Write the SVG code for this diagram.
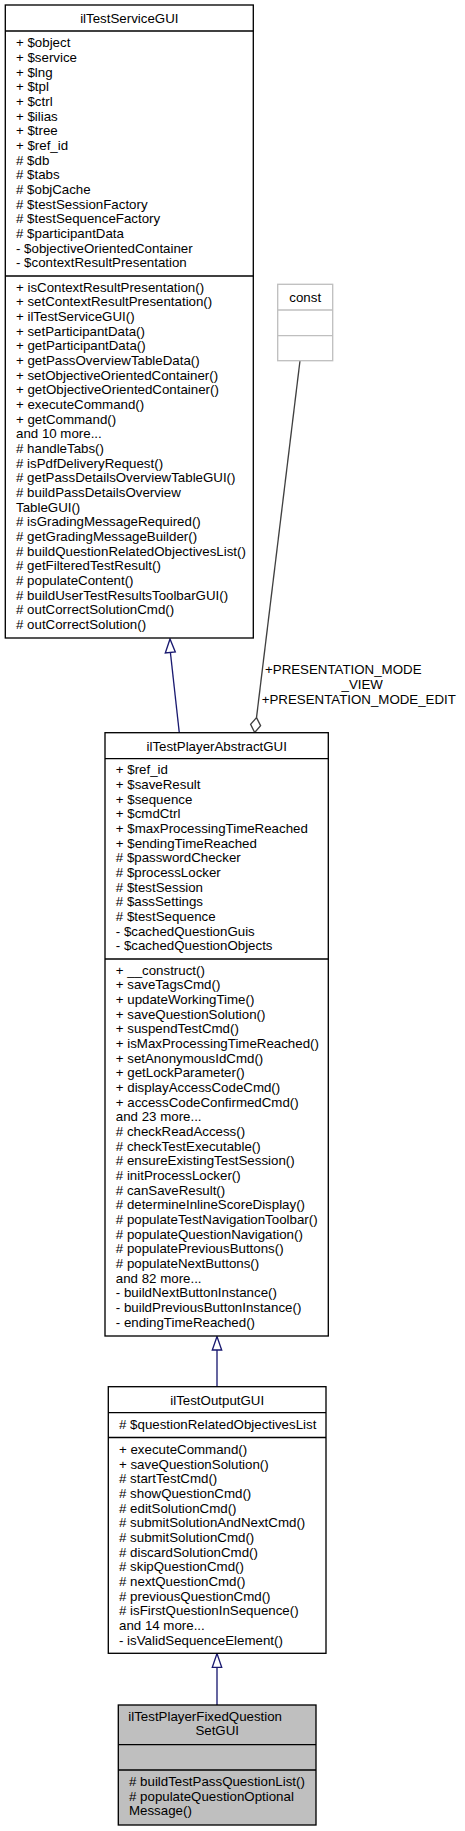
<svg xmlns="http://www.w3.org/2000/svg" width="465" height="1831" viewBox="0 0 465 1831">
<style>
text{font-family:"Liberation Sans",Arial,Helvetica,sans-serif;font-size:13.3px;fill:#000}
.box{fill:#fff;stroke:#000;stroke-width:1.33}
.sel{fill:#bfbfbf;stroke:#000;stroke-width:1.33}
.cst{fill:#fff;stroke:#bfbfbf;stroke-width:1.33}
.ln{stroke:#000;stroke-width:1.33}
.lnc{stroke:#bfbfbf;stroke-width:1.33}
.inh{fill:none;stroke:#191970;stroke-width:1.33}
.tri{fill:#fff;stroke:#191970;stroke-width:1.33}
.agg{fill:none;stroke:#404040;stroke-width:1.33}
.dia{fill:#fff;stroke:#404040;stroke-width:1.33}
.mid{text-anchor:middle}
</style>
<rect width="465" height="1831" fill="#fff"/>
<g id="edges">
<path class="inh" d="M179.3,732.7 L170.4,652.5"/>
<polygon class="tri" points="170,639 165.3,653 175.3,652"/>
<path class="inh" d="M217,1350 L217,1386.7"/>
<polygon class="tri" points="217,1336.5 212.3,1350 221.7,1350"/>
<path class="inh" d="M217,1667.3 L217,1705"/>
<polygon class="tri" points="217,1653.5 212.3,1667.3 221.7,1667.3"/>
<path class="agg" d="M300,360.7 L256.5,717.6"/>
<polygon class="dia" points="256.5,717.6 260.6,725.6 254.7,732.5 250.6,724.4"/>
<text x="265" y="674.4">+PRESENTATION_MODE</text>
<text x="341.5" y="689">_VIEW</text>
<text x="261.7" y="703.6">+PRESENTATION_MODE_EDIT</text>
</g>
<g id="node_ilTestServiceGUI">
<rect class="box" x="5.3" y="5" width="248" height="633"/>
<line class="ln" x1="5.3" y1="31" x2="253.3" y2="31"/>
<line class="ln" x1="5.3" y1="276" x2="253.3" y2="276"/>
<text class="mid" x="129.3" y="23">ilTestServiceGUI</text>
<text x="16"><tspan x="16" y="47.2">+ $object</tspan><tspan x="16" dy="14.667">+ $service</tspan><tspan x="16" dy="14.667">+ $lng</tspan><tspan x="16" dy="14.667">+ $tpl</tspan><tspan x="16" dy="14.667">+ $ctrl</tspan><tspan x="16" dy="14.667">+ $ilias</tspan><tspan x="16" dy="14.667">+ $tree</tspan><tspan x="16" dy="14.667">+ $ref_id</tspan><tspan x="16" dy="14.667"># $db</tspan><tspan x="16" dy="14.667"># $tabs</tspan><tspan x="16" dy="14.667"># $objCache</tspan><tspan x="16" dy="14.667"># $testSessionFactory</tspan><tspan x="16" dy="14.667"># $testSequenceFactory</tspan><tspan x="16" dy="14.667"># $participantData</tspan><tspan x="16" dy="14.667">- $objectiveOrientedContainer</tspan><tspan x="16" dy="14.667">- $contextResultPresentation</tspan></text>
<text x="16"><tspan x="16" y="291.8">+ isContextResultPresentation()</tspan><tspan x="16" dy="14.667">+ setContextResultPresentation()</tspan><tspan x="16" dy="14.667">+ ilTestServiceGUI()</tspan><tspan x="16" dy="14.667">+ setParticipantData()</tspan><tspan x="16" dy="14.667">+ getParticipantData()</tspan><tspan x="16" dy="14.667">+ getPassOverviewTableData()</tspan><tspan x="16" dy="14.667">+ setObjectiveOrientedContainer()</tspan><tspan x="16" dy="14.667">+ getObjectiveOrientedContainer()</tspan><tspan x="16" dy="14.667">+ executeCommand()</tspan><tspan x="16" dy="14.667">+ getCommand()</tspan><tspan x="16" dy="14.667">and 10 more...</tspan><tspan x="16" dy="14.667"># handleTabs()</tspan><tspan x="16" dy="14.667"># isPdfDeliveryRequest()</tspan><tspan x="16" dy="14.667"># getPassDetailsOverviewTableGUI()</tspan><tspan x="16" dy="14.667"># buildPassDetailsOverview</tspan><tspan x="16" dy="14.667">TableGUI()</tspan><tspan x="16" dy="14.667"># isGradingMessageRequired()</tspan><tspan x="16" dy="14.667"># getGradingMessageBuilder()</tspan><tspan x="16" dy="14.667"># buildQuestionRelatedObjectivesList()</tspan><tspan x="16" dy="14.667"># getFilteredTestResult()</tspan><tspan x="16" dy="14.667"># populateContent()</tspan><tspan x="16" dy="14.667"># buildUserTestResultsToolbarGUI()</tspan><tspan x="16" dy="14.667"># outCorrectSolutionCmd()</tspan><tspan x="16" dy="14.667"># outCorrectSolution()</tspan></text>
</g>
<g id="node_const">
<rect class="cst" x="277.7" y="284.3" width="55" height="76.4"/>
<line class="lnc" x1="277.7" y1="310" x2="332.7" y2="310"/>
<line class="lnc" x1="277.7" y1="335.7" x2="332.7" y2="335.7"/>
<text class="mid" x="305.2" y="301.8">const</text>
</g>
<g id="node_ilTestPlayerAbstractGUI">
<rect class="box" x="105" y="732.7" width="223.3" height="603.3"/>
<line class="ln" x1="105" y1="758.7" x2="328.3" y2="758.7"/>
<line class="ln" x1="105" y1="959" x2="328.3" y2="959"/>
<text class="mid" x="216.7" y="750.5">ilTestPlayerAbstractGUI</text>
<text x="115.8"><tspan x="115.8" y="774.3">+ $ref_id</tspan><tspan x="115.8" dy="14.667">+ $saveResult</tspan><tspan x="115.8" dy="14.667">+ $sequence</tspan><tspan x="115.8" dy="14.667">+ $cmdCtrl</tspan><tspan x="115.8" dy="14.667">+ $maxProcessingTimeReached</tspan><tspan x="115.8" dy="14.667">+ $endingTimeReached</tspan><tspan x="115.8" dy="14.667"># $passwordChecker</tspan><tspan x="115.8" dy="14.667"># $processLocker</tspan><tspan x="115.8" dy="14.667"># $testSession</tspan><tspan x="115.8" dy="14.667"># $assSettings</tspan><tspan x="115.8" dy="14.667"># $testSequence</tspan><tspan x="115.8" dy="14.667">- $cachedQuestionGuis</tspan><tspan x="115.8" dy="14.667">- $cachedQuestionObjects</tspan></text>
<text x="115.8"><tspan x="115.8" y="974.7">+ __construct()</tspan><tspan x="115.8" dy="14.667">+ saveTagsCmd()</tspan><tspan x="115.8" dy="14.667">+ updateWorkingTime()</tspan><tspan x="115.8" dy="14.667">+ saveQuestionSolution()</tspan><tspan x="115.8" dy="14.667">+ suspendTestCmd()</tspan><tspan x="115.8" dy="14.667">+ isMaxProcessingTimeReached()</tspan><tspan x="115.8" dy="14.667">+ setAnonymousIdCmd()</tspan><tspan x="115.8" dy="14.667">+ getLockParameter()</tspan><tspan x="115.8" dy="14.667">+ displayAccessCodeCmd()</tspan><tspan x="115.8" dy="14.667">+ accessCodeConfirmedCmd()</tspan><tspan x="115.8" dy="14.667">and 23 more...</tspan><tspan x="115.8" dy="14.667"># checkReadAccess()</tspan><tspan x="115.8" dy="14.667"># checkTestExecutable()</tspan><tspan x="115.8" dy="14.667"># ensureExistingTestSession()</tspan><tspan x="115.8" dy="14.667"># initProcessLocker()</tspan><tspan x="115.8" dy="14.667"># canSaveResult()</tspan><tspan x="115.8" dy="14.667"># determineInlineScoreDisplay()</tspan><tspan x="115.8" dy="14.667"># populateTestNavigationToolbar()</tspan><tspan x="115.8" dy="14.667"># populateQuestionNavigation()</tspan><tspan x="115.8" dy="14.667"># populatePreviousButtons()</tspan><tspan x="115.8" dy="14.667"># populateNextButtons()</tspan><tspan x="115.8" dy="14.667">and 82 more...</tspan><tspan x="115.8" dy="14.667">- buildNextButtonInstance()</tspan><tspan x="115.8" dy="14.667">- buildPreviousButtonInstance()</tspan><tspan x="115.8" dy="14.667">- endingTimeReached()</tspan></text>
</g>
<g id="node_ilTestOutputGUI">
<rect class="box" x="108.3" y="1386.7" width="217.7" height="266.6"/>
<line class="ln" x1="108.3" y1="1412.7" x2="326" y2="1412.7"/>
<line class="ln" x1="108.3" y1="1437.5" x2="326" y2="1437.5"/>
<text class="mid" x="217.2" y="1404.6">ilTestOutputGUI</text>
<text x="119" y="1428.8"># $questionRelatedObjectivesList</text>
<text x="119"><tspan x="119" y="1453.9">+ executeCommand()</tspan><tspan x="119" dy="14.667">+ saveQuestionSolution()</tspan><tspan x="119" dy="14.667"># startTestCmd()</tspan><tspan x="119" dy="14.667"># showQuestionCmd()</tspan><tspan x="119" dy="14.667"># editSolutionCmd()</tspan><tspan x="119" dy="14.667"># submitSolutionAndNextCmd()</tspan><tspan x="119" dy="14.667"># submitSolutionCmd()</tspan><tspan x="119" dy="14.667"># discardSolutionCmd()</tspan><tspan x="119" dy="14.667"># skipQuestionCmd()</tspan><tspan x="119" dy="14.667"># nextQuestionCmd()</tspan><tspan x="119" dy="14.667"># previousQuestionCmd()</tspan><tspan x="119" dy="14.667"># isFirstQuestionInSequence()</tspan><tspan x="119" dy="14.667">and 14 more...</tspan><tspan x="119" dy="14.667">- isValidSequenceElement()</tspan></text>
</g>
<g id="node_ilTestPlayerFixedQuestionSetGUI">
<rect class="sel" x="118.3" y="1705" width="197.7" height="120"/>
<line class="ln" x1="118.3" y1="1744.7" x2="316" y2="1744.7"/>
<line class="ln" x1="118.3" y1="1770" x2="316" y2="1770"/>
<text x="128.3" y="1720.5">ilTestPlayerFixedQuestion</text>
<text class="mid" x="217.2" y="1735">SetGUI</text>
<text x="129"><tspan x="129" y="1786"># buildTestPassQuestionList()</tspan><tspan x="129" dy="14.667"># populateQuestionOptional</tspan><tspan x="129" dy="14.667">Message()</tspan></text>
</g>
</svg>
